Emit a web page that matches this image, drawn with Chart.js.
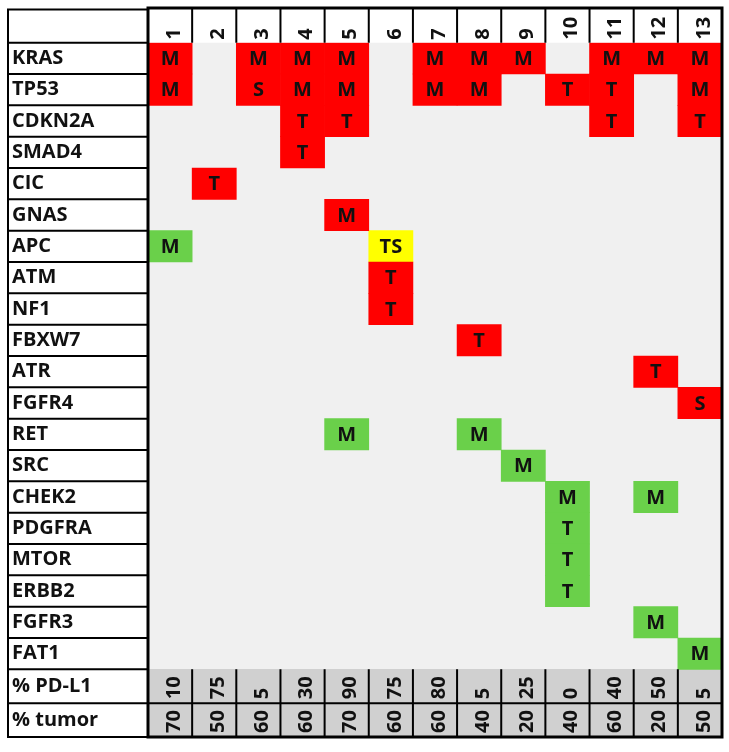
<!DOCTYPE html>
<html>
<head>
<meta charset="utf-8">
<script src="https://cdn.jsdelivr.net/npm/chart.js@4.4.1/dist/chart.umd.min.js"></script>
<style>
  html, body { margin: 0; padding: 0; background: #fff; }
  #wrap { width: 729px; height: 752px; }
</style>
</head>
<body>
<div id="wrap"><canvas id="oncoChart" width="729" height="752"></canvas></div>
<script>
// Columns = patients, rows = genes + two summary rows
const patients = ['1', '2', '3', '4', '5', '6', '7', '8', '9', '10', '11', '12', '13'];
const genes = ['KRAS', 'TP53', 'CDKN2A', 'SMAD4', 'CIC', 'GNAS', 'APC', 'ATM', 'NF1', 'FBXW7',
               'ATR', 'FGFR4', 'RET', 'SRC', 'CHEK2', 'PDGFRA', 'MTOR', 'ERBB2', 'FGFR3', 'FAT1'];
const summaryRows = ['% PD-L1', '% tumor'];
const pdl1 = [10, 75, 5, 30, 90, 75, 80, 5, 25, 0, 40, 50, 5];
const tumor = [70, 50, 60, 60, 70, 60, 60, 40, 20, 40, 60, 20, 50];

// [gene, patient, call]
const redCalls = [
  ['KRAS', '1', 'M'], ['KRAS', '3', 'M'], ['KRAS', '4', 'M'], ['KRAS', '5', 'M'], ['KRAS', '7', 'M'],
  ['KRAS', '8', 'M'], ['KRAS', '9', 'M'], ['KRAS', '11', 'M'], ['KRAS', '12', 'M'], ['KRAS', '13', 'M'],
  ['TP53', '1', 'M'], ['TP53', '3', 'S'], ['TP53', '4', 'M'], ['TP53', '5', 'M'], ['TP53', '7', 'M'],
  ['TP53', '8', 'M'], ['TP53', '10', 'T'], ['TP53', '11', 'T'], ['TP53', '13', 'M'],
  ['CDKN2A', '4', 'T'], ['CDKN2A', '5', 'T'], ['CDKN2A', '11', 'T'], ['CDKN2A', '13', 'T'],
  ['SMAD4', '4', 'T'], ['CIC', '2', 'T'], ['GNAS', '5', 'M'], ['ATM', '6', 'T'], ['NF1', '6', 'T'],
  ['FBXW7', '8', 'T'], ['ATR', '12', 'T'], ['FGFR4', '13', 'S']
];
const greenCalls = [
  ['APC', '1', 'M'], ['RET', '5', 'M'], ['RET', '8', 'M'], ['SRC', '9', 'M'],
  ['CHEK2', '10', 'M'], ['CHEK2', '12', 'M'], ['PDGFRA', '10', 'T'], ['MTOR', '10', 'T'],
  ['ERBB2', '10', 'T'], ['FGFR3', '12', 'M'], ['FAT1', '13', 'M']
];
const yellowCalls = [
  ['APC', '6', 'TS']
];

const allRows = genes.concat(summaryRows);
const SUMMARY_H = 1.08; // summary rows are a bit taller than gene rows
const FONT = { family: '"Open Sans", sans-serif', size: 20, weight: 'bold' };
const FONT_CSS = 'bold 20px "Open Sans", sans-serif';
const INK = '#111';

function rowTop(i) {
  return i <= genes.length ? i : genes.length + (i - genes.length) * SUMMARY_H;
}

function toBars(calls) {
  return calls.map(c => {
    const r = genes.indexOf(c[0]);
    return { x: c[1], y: [rowTop(r), rowTop(r + 1)], call: c[2] };
  });
}

const summaryBars = patients.map(p => ({ x: p, y: [rowTop(genes.length), rowTop(allRows.length)] }));

// text rotated to read bottom-to-top, starting at (px, py)
function upText(ctx, str, px, py) {
  ctx.save();
  ctx.translate(px, py);
  ctx.rotate(-Math.PI / 2);
  ctx.textAlign = 'left';
  ctx.textBaseline = 'middle';
  ctx.fillText(str, 0, 0);
  ctx.restore();
}

// Background, cell texts and table lines
const tablePlugin = {
  id: 'tableGrid',
  beforeDatasetsDraw(chart) {
    const { ctx, chartArea, scales: { y } } = chart;
    const top = y.getPixelForValue(0);
    const bot = y.getPixelForValue(rowTop(genes.length));
    ctx.save();
    ctx.fillStyle = '#f0f0f0';
    ctx.fillRect(chartArea.left, top, chartArea.right - chartArea.left, bot - top);
    ctx.restore();
  },
  afterDatasetsDraw(chart) {
    const { ctx, chartArea, scales: { x, y } } = chart;
    ctx.save();
    ctx.fillStyle = INK;
    ctx.font = FONT_CSS;
    ctx.textAlign = 'center';
    ctx.textBaseline = 'middle';
    chart.data.datasets.forEach((ds, di) => {
      if (!ds.hasCalls) return;
      chart.getDatasetMeta(di).data.forEach((el, i) => {
        ctx.fillText(ds.data[i].call, el.x, (el.y + el.base) / 2 + 1);
      });
    });

    // column headers
    patients.forEach((p, i) => {
      upText(ctx, p, x.getPixelForValue(i) + 4, chartArea.top - 3);
    });

    // summary rows
    [pdl1, tumor].forEach((vals, r) => {
      const yb = y.getPixelForValue(rowTop(genes.length + r + 1)) - 4;
      vals.forEach((v, i) => upText(ctx, String(v), x.getPixelForValue(i) + 4, yb));
    });
    ctx.restore();
  },
  afterDraw(chart) {
    const { ctx, chartArea, scales: { y } } = chart;
    const L = chartArea.left, R = chartArea.right, B = chartArea.bottom;
    const colW = (R - L) / patients.length;
    const gridTop = 8;
    const boxLeft = 8, boxTop = 9.5;
    const sumTop = y.getPixelForValue(rowTop(genes.length));
    ctx.save();
    ctx.strokeStyle = '#000';
    ctx.lineWidth = 2;

    // left label box
    ctx.strokeRect(boxLeft, boxTop, L - boxLeft, B - boxTop);
    ctx.beginPath();
    for (let i = 0; i < allRows.length; i++) {
      const py = y.getPixelForValue(rowTop(i));
      ctx.moveTo(boxLeft, py);
      ctx.lineTo(L, py);
    }
    ctx.stroke();

    // column dividers in header and summary rows
    ctx.beginPath();
    for (let k = 1; k < patients.length; k++) {
      const px = L + k * colW;
      ctx.moveTo(px, gridTop);
      ctx.lineTo(px, chartArea.top);
      ctx.moveTo(px, sumTop);
      ctx.lineTo(px, B);
    }
    const midLine = y.getPixelForValue(rowTop(genes.length + 1));
    ctx.moveTo(L, midLine);
    ctx.lineTo(R, midLine);
    ctx.stroke();

    // heavy outer frame
    ctx.lineWidth = 3;
    ctx.strokeRect(L, gridTop, R - L, B - gridTop);
    ctx.restore();
  }
};

const ctx = document.getElementById('oncoChart').getContext('2d');
new Chart(ctx, {
  type: 'bar',
  data: {
    labels: patients,
    datasets: [
      { label: 'mutation', data: toBars(redCalls), backgroundColor: '#ff0000', hasCalls: true },
      { label: 'other', data: toBars(greenCalls), backgroundColor: '#6ad04a', hasCalls: true },
      { label: 'two', data: toBars(yellowCalls), backgroundColor: '#ffff00', hasCalls: true },
      { label: 'summary', data: summaryBars, backgroundColor: '#d0d0d0' }
    ]
  },
  options: {
    responsive: false,
    animation: false,
    events: [],
    layout: { padding: { top: 8, left: 12, right: 7, bottom: 12 } },
    plugins: {
      legend: { display: false },
      tooltip: { enabled: false }
    },
    datasets: {
      bar: { grouped: false, barPercentage: 1, categoryPercentage: 1, borderWidth: 0 }
    },
    scales: {
      x: {
        type: 'category',
        position: 'top',
        grid: { display: false, drawTicks: false },
        border: { display: false },
        ticks: { display: false },
        afterFit: s => { s.height = 34.7; }
      },
      y: {
        type: 'linear',
        reverse: true,
        min: 0,
        max: rowTop(allRows.length),
        grid: { display: false, drawTicks: false },
        border: { display: false },
        afterBuildTicks: s => {
          s.ticks = allRows.map((_, i) => ({ value: (rowTop(i) + rowTop(i + 1)) / 2 }));
        },
        ticks: {
          crossAlign: 'far',
          autoSkip: false,
          color: INK,
          font: FONT,
          callback: (v, i) => allRows[i]
        },
        afterFit: s => { s.width = 136; }
      }
    }
  },
  plugins: [tablePlugin]
});
</script>
</body>
</html>
